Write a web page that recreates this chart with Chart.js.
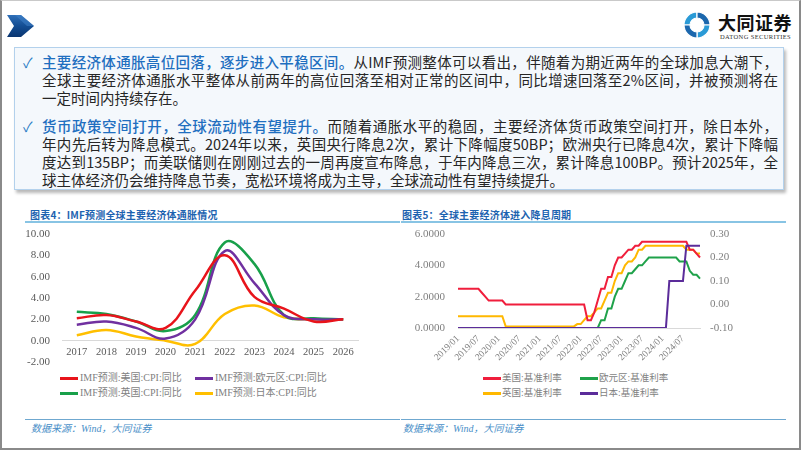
<!DOCTYPE html>
<html>
<head>
<meta charset="utf-8">
<script src="https://cdn.jsdelivr.net/npm/chart.js@4.4.1/dist/chart.umd.min.js"></script>
<style>
  body { margin: 0; width: 802px; height: 451px; position: relative; overflow: hidden; background: #fff;
         font-family: "Noto Sans CJK SC", sans-serif; }
  .frame { position: absolute; left: 0; top: 0; width: 801px; height: 450px; box-sizing: border-box;
           border: 2px solid #8a8a8a; border-top: 1px solid #c9c9c9; }
  .abs { position: absolute; }
  .box { position: absolute; left: 14px; top: 47px; width: 770px; height: 143px; box-sizing: border-box;
         border: 1px solid #b3d1ec; background: #f4f8fc; box-shadow: 2px 3px 3px rgba(0,0,0,0.28);
         padding: 5px 5px 0 27px; }
  .ln { height: 18px; line-height: 18px; font-size: 14.5px; color: #262626; text-align: justify;
        text-align-last: justify; position: relative; }
  .ln.last { text-align-last: left; }
  .hd { color: #1f6fc0; font-weight: 500; }
  .ck { position: absolute; left: -19px; top: 0; color: #2b7dc6; font-size: 14px; }
  .para2 { margin-top: 10px; }
  .ttl { position: absolute; top: 208px; line-height: 14px; font-size: 10px; font-weight: bold; color: #1d63b0;
         letter-spacing: 0.2px; }
  .tline { position: absolute; top: 221px; height: 2px; background: #88c4e4; }
  .sline { position: absolute; top: 419px; height: 1px; background: #6fa8d0; }
  .src { position: absolute; top: 422px; line-height: 14px; font-size: 10px; font-style: italic; color: #4a8fc8;
         font-family: "Liberation Serif", "Noto Sans CJK SC", serif; }
  .lg { position: absolute; height: 14px; line-height: 14px; color: #7f7f7f; white-space: nowrap;
        font-family: "Liberation Serif", "Noto Sans CJK SC", serif; }
  .lg i { position: absolute; left: 0; top: 6px; width: 18px; height: 3px; }
  .lg span { position: absolute; top: 0; }
  canvas { position: absolute; }
</style>
</head>
<body>
<div class="frame"></div>

<svg class="abs" style="left:6px;top:13px" width="30" height="26" viewBox="0 0 30 26">
  <defs>
    <linearGradient id="ag" x1="0" y1="0" x2="0" y2="1">
      <stop offset="0" stop-color="#2f6fb8"/><stop offset="0.5" stop-color="#134d93"/><stop offset="1" stop-color="#0a3570"/>
    </linearGradient>
  </defs>
  <polygon points="1,2 15,2 28,13 15,24 1,24 8,13" fill="url(#ag)"/>
  <polygon points="9,2 15,2 28,13 21,13" fill="#3f82c8" opacity="0.55"/>
</svg>

<svg class="abs" style="left:679px;top:7px" width="36" height="36" viewBox="0 0 36 36">
  <g stroke="#fff" stroke-width="1.2">
    <path d="M5 18 A13 13 0 0 1 18 5 L18 11 A7 7 0 0 0 11 18 Z" fill="#2a9ad6"/>
    <path d="M18 5 A13 13 0 0 1 31 18 L25 18 A7 7 0 0 0 18 11 Z" fill="#1b67ad"/>
    <path d="M31 18 A13 13 0 0 1 18 31 L18 25 A7 7 0 0 0 25 18 Z" fill="#2a9ad6"/>
    <path d="M18 31 A13 13 0 0 1 5 18 L11 18 A7 7 0 0 0 18 25 Z" fill="#1b67ad"/>
  </g>
</svg>
<div class="abs" style="left:718px;top:11px;font-size:18px;font-weight:bold;color:#111;line-height:22px;letter-spacing:0.5px">大同证券</div>
<div class="abs" style="left:720px;top:33px;font-size:6.5px;color:#333;line-height:8px;letter-spacing:0.35px;font-family:'Liberation Serif',serif">DATONG SECURITIES</div>

<div class="box">
  <div class="ln"><span class="ck">✓</span><span class="hd">主要经济体通胀高位回落，逐步进入平稳区间。</span>从IMF预测整体可以看出，伴随着为期近两年的全球加息大潮下，</div>
  <div class="ln">全球主要经济体通胀水平整体从前两年的高位回落至相对正常的区间中，同比增速回落至2%区间，并被预测将在</div>
  <div class="ln last">一定时间内持续存在。</div>
  <div class="ln para2"><span class="ck">✓</span><span class="hd">货币政策空间打开，全球流动性有望提升。</span>而随着通胀水平的稳固，主要经济体货币政策空间打开，除日本外，</div>
  <div class="ln">年内先后转为降息模式。2024年以来，英国央行降息2次，累计下降幅度50BP；欧洲央行已降息4次，累计下降幅</div>
  <div class="ln">度达到135BP；而美联储则在刚刚过去的一周再度宣布降息，于年内降息三次，累计降息100BP。预计2025年，全</div>
  <div class="ln last">球主体经济仍会维持降息节奏，宽松环境将成为主导，全球流动性有望持续提升。</div>
</div>

<div class="ttl" style="left:30px">图表4：IMF预测全球主要经济体通胀情况</div>
<div class="tline" style="left:25px;width:375px"></div>
<div class="ttl" style="left:402px">图表5：全球主要经济体进入降息周期</div>
<div class="tline" style="left:401px;width:385px"></div>

<canvas id="cpiChart" width="350" height="144" style="left:15px;top:226px"></canvas>
<canvas id="rateChart" width="345" height="142" style="left:400px;top:226px"></canvas>

<div id="cpiLegend"></div>
<div id="rateLegend"></div>

<div class="sline" style="left:25px;width:375px"></div>
<div class="src" style="left:31px">数据来源：Wind，大同证券</div>
<div class="sline" style="left:401px;width:385px"></div>
<div class="src" style="left:403px">数据来源：Wind，大同证券</div>

<script>
// Chart 4: IMF CPI forecasts (yoy, %)
const years = ['2017', '2018', '2019', '2020', '2021', '2022', '2023', '2024', '2025', '2026'];
const usCpi = [2.1, 2.4, 1.8, 1.2, 4.7, 8.0, 4.1, 3.0, 1.8, 2.0];
const euCpi = [1.5, 1.8, 1.2, 0.2, 2.0, 8.4, 5.4, 2.4, 2.0, 2.0];
const ukCpi = [2.7, 2.5, 1.8, 0.9, 2.4, 9.2, 7.2, 2.4, 2.1, 2.0];
const jpCpi = [0.5, 1.0, 0.4, 0.0, -0.3, 2.5, 3.3, 2.2, 2.0, 2.0];

// Chart 5: policy rates, monthly 2019/01 - 2024/12
const months = [
  '2019/01','2019/02','2019/03','2019/04','2019/05','2019/06','2019/07','2019/08','2019/09','2019/10','2019/11','2019/12',
  '2020/01','2020/02','2020/03','2020/04','2020/05','2020/06','2020/07','2020/08','2020/09','2020/10','2020/11','2020/12',
  '2021/01','2021/02','2021/03','2021/04','2021/05','2021/06','2021/07','2021/08','2021/09','2021/10','2021/11','2021/12',
  '2022/01','2022/02','2022/03','2022/04','2022/05','2022/06','2022/07','2022/08','2022/09','2022/10','2022/11','2022/12',
  '2023/01','2023/02','2023/03','2023/04','2023/05','2023/06','2023/07','2023/08','2023/09','2023/10','2023/11','2023/12',
  '2024/01','2024/02','2024/03','2024/04','2024/05','2024/06','2024/07','2024/08','2024/09','2024/10','2024/11','2024/12'
];
const rateTicks = ['2019/01','2019/07','2020/01','2020/07','2021/01','2021/07','2022/01','2022/07','2023/01','2023/07','2024/01','2024/07'];
const usRate = [
  2.5, 2.5, 2.5, 2.5, 2.5, 2.5, 2.5, 2.25, 2.0, 1.75, 1.75, 1.75,
  1.75, 1.75, 1.5, 1.5, 1.5, 1.5, 1.5, 1.5, 1.5, 1.5, 1.5, 1.5,
  1.5, 1.5, 1.5, 1.5, 1.5, 1.5, 1.5, 1.5, 1.5, 1.5, 1.5, 1.5,
  1.5, 1.5, 0.5, 0.5, 1.0, 1.75, 2.5, 2.5, 3.25, 3.25, 4.0, 4.5,
  4.5, 4.75, 5.0, 5.0, 5.25, 5.25, 5.5, 5.5, 5.5, 5.5, 5.5, 5.5,
  5.5, 5.5, 5.5, 5.5, 5.5, 5.5, 5.5, 5.5, 5.0, 5.0, 4.75, 4.5
];
const euRate = [
  0, 0, 0, 0, 0, 0, 0, 0, 0, 0, 0, 0,
  0, 0, 0, 0, 0, 0, 0, 0, 0, 0, 0, 0,
  0, 0, 0, 0, 0, 0, 0, 0, 0, 0, 0, 0,
  0, 0, 0, 0, 0, 0, 0.5, 0.5, 1.25, 1.25, 2.0, 2.5,
  2.5, 3.0, 3.5, 3.5, 3.75, 4.0, 4.0, 4.25, 4.5, 4.5, 4.5, 4.5,
  4.5, 4.5, 4.5, 4.5, 4.5, 4.25, 4.25, 4.25, 3.65, 3.4, 3.4, 3.15
];
const ukRate = [
  0.75, 0.75, 0.75, 0.75, 0.75, 0.75, 0.75, 0.75, 0.75, 0.75, 0.75, 0.75,
  0.75, 0.75, 0.1, 0.1, 0.1, 0.1, 0.1, 0.1, 0.1, 0.1, 0.1, 0.1,
  0.1, 0.1, 0.1, 0.1, 0.1, 0.1, 0.1, 0.1, 0.1, 0.1, 0.1, 0.25,
  0.25, 0.5, 0.75, 0.75, 1.0, 1.25, 1.25, 1.75, 2.25, 2.25, 3.0, 3.5,
  3.5, 4.0, 4.25, 4.25, 4.5, 5.0, 5.0, 5.25, 5.25, 5.25, 5.25, 5.25,
  5.25, 5.25, 5.25, 5.25, 5.25, 5.25, 5.25, 5.0, 5.0, 5.0, 4.75, 4.75
];
const jpRate = [
  -0.1, -0.1, -0.1, -0.1, -0.1, -0.1, -0.1, -0.1, -0.1, -0.1, -0.1, -0.1,
  -0.1, -0.1, -0.1, -0.1, -0.1, -0.1, -0.1, -0.1, -0.1, -0.1, -0.1, -0.1,
  -0.1, -0.1, -0.1, -0.1, -0.1, -0.1, -0.1, -0.1, -0.1, -0.1, -0.1, -0.1,
  -0.1, -0.1, -0.1, -0.1, -0.1, -0.1, -0.1, -0.1, -0.1, -0.1, -0.1, -0.1,
  -0.1, -0.1, -0.1, -0.1, -0.1, -0.1, -0.1, -0.1, -0.1, -0.1, -0.1, -0.1,
  -0.1, -0.1, 0.1, 0.1, 0.1, 0.1, 0.1, 0.25, 0.25, 0.25, 0.25, 0.25
];

const tickFont = { family: 'Liberation Serif', size: 11 };
const tickColor = '#595959';

function line(label, data, color, width, extra) {
    return Object.assign({
        label: label,
        data: data,
        borderColor: color,
        backgroundColor: color,
        borderWidth: width,
        pointRadius: 0,
        fill: false
    }, extra || {});
}

// fixed axis widths, and no extra label padding above/below the plot
function fixWidth(w) {
    return s => { s.width = w; s.paddingTop = 0; s.paddingBottom = 0; };
}

// Inflation chart (smoothed lines, x axis sitting on zero)
const cpiChart = new Chart(document.getElementById('cpiChart'), {
    type: 'line',
    data: {
        labels: years,
        datasets: [
            line('IMF预测:美国:CPI:同比', usCpi, '#e8141b', 2.5, { tension: 0.4 }),
            line('IMF预测:欧元区:CPI:同比', euCpi, '#7030a0', 2.5, { tension: 0.4 }),
            line('IMF预测:英国:CPI:同比', ukCpi, '#18a04a', 2.5, { tension: 0.4 }),
            line('IMF预测:日本:CPI:同比', jpCpi, '#ffbf00', 2.5, { tension: 0.4 })
        ]
    },
    options: {
        responsive: false,
        animation: false,
        layout: { padding: { top: 8, right: 7, bottom: 8, left: 0 } },
        plugins: { legend: { display: false }, tooltip: { enabled: false } },
        scales: {
            x: {
                type: 'category',
                position: { y: 0 },
                offset: true,
                grid: { display: false, drawTicks: false },
                border: { display: true, color: '#d9d9d9', width: 1 },
                ticks: { color: tickColor, font: { family: 'Liberation Serif', size: 10.5 }, padding: 5,
                         maxRotation: 0, autoSkip: false },
                afterFit: s => { s.height = 0; }
            },
            y: {
                min: -2, max: 10,
                grid: { display: false, drawTicks: false },
                border: { display: false },
                ticks: { stepSize: 2, padding: 12, color: tickColor, font: tickFont,
                         callback: v => Number(v).toFixed(2) },
                afterFit: fixWidth(47)
            }
        }
    }
});

// Policy rate chart (Japan on the right axis)
const rateChart = new Chart(document.getElementById('rateChart'), {
    type: 'line',
    data: {
        labels: months,
        datasets: [
            line('美国:基准利率', usRate, '#f01e3c', 2, { tension: 0, order: 1 }),
            line('欧元区:基准利率', euRate, '#1fa24a', 2, { tension: 0, order: 3 }),
            line('英国:基准利率', ukRate, '#ffb800', 2, { tension: 0, order: 2 }),
            line('日本:基准利率', jpRate, '#5b2c9a', 2, { tension: 0, order: 0, yAxisID: 'y1' })
        ]
    },
    options: {
        responsive: false,
        animation: false,
        layout: { padding: { top: 8, right: 0, bottom: 0, left: 0 } },
        plugins: { legend: { display: false }, tooltip: { enabled: false } },
        scales: {
            x: {
                offset: false,
                grid: { display: false, drawTicks: false },
                border: { display: true, color: '#d9d9d9', width: 1 },
                ticks: {
                    autoSkip: false, minRotation: 45, maxRotation: 45, padding: 5,
                    color: '#7f7f7f', font: { family: 'Liberation Serif', size: 9.5 },
                    callback: (v, i) => rateTicks.includes(months[i]) ? months[i] : null
                },
                afterFit: s => { s.height = 40; }
            },
            y: {
                position: 'left',
                min: 0, max: 6,
                grid: { display: false, drawTicks: false },
                border: { display: false },
                ticks: { stepSize: 1, padding: 13, color: '#7f7f7f', font: tickFont,
                         callback: v => Number(v).toFixed(4) },
                afterFit: fixWidth(58)
            },
            y1: {
                position: 'right',
                min: -0.1, max: 0.3,
                grid: { display: false, drawTicks: false },
                border: { display: false },
                ticks: { stepSize: 0.1, padding: 10, color: '#7f7f7f', font: tickFont,
                         callback: v => Number(v).toFixed(2) },
                afterFit: fixWidth(45)
            }
        }
    }
});

// Two-column legends built from the chart datasets
function buildLegend(chart, holderId, left, top, colStep, textGap, fontSize) {
    const holder = document.getElementById(holderId);
    chart.data.datasets.forEach((ds, i) => {
        const item = document.createElement('div');
        item.className = 'lg';
        item.style.left = (left + (i % 2) * colStep) + 'px';
        item.style.top = (top + Math.floor(i / 2) * 15) + 'px';
        item.style.fontSize = fontSize + 'px';
        item.innerHTML = '<i style="background:' + ds.borderColor + '"></i><span style="left:' + textGap + 'px">' + ds.label + '</span>';
        holder.appendChild(item);
    });
}

buildLegend(cpiChart, 'cpiLegend', 60, 371, 135, 20, 10);
buildLegend(rateChart, 'rateLegend', 483, 371, 97, 19, 9.5);
</script>
</body>
</html>
